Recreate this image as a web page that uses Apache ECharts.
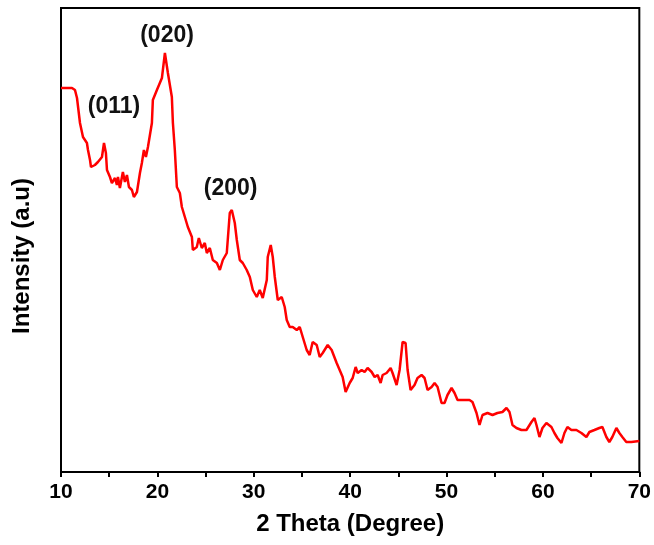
<!DOCTYPE html>
<html>
<head>
<meta charset="utf-8">
<script src="https://cdn.jsdelivr.net/npm/echarts@6/dist/echarts.min.js"></script>
<style>
  html, body { margin: 0; padding: 0; background: #fff; }
  #chart { width: 654px; height: 545px; }
</style>
</head>
<body>
<div id="chart"></div>
<script>
// 2 theta (degree)
const twoTheta = [
  10.00, 11.14, 11.45, 11.66, 11.97, 12.28, 12.69, 12.80, 13.01, 13.11,
  13.52, 13.83, 14.25, 14.46, 14.66, 14.77, 15.08, 15.28, 15.60, 15.80,
  15.91, 16.11, 16.42, 16.63, 16.84, 17.05, 17.36, 17.56, 17.88, 18.19,
  18.39, 18.60, 18.81, 19.02, 19.43, 19.53, 19.95, 20.47, 20.78, 20.98,
  21.09, 21.50, 21.61, 21.81, 22.02, 22.33, 22.54, 22.85, 23.16, 23.58,
  23.68, 24.09, 24.30, 24.61, 24.92, 25.13, 25.44, 25.75, 26.17, 26.48,
  26.79, 27.20, 27.51, 27.72, 28.03, 28.24, 28.55, 28.86, 29.27, 29.59,
  29.90, 30.31, 30.62, 30.93, 31.35, 31.45, 31.76, 31.97, 32.18, 32.49,
  32.90, 33.21, 33.42, 33.73, 34.04, 34.46, 34.77, 35.08, 35.49, 35.80,
  36.11, 36.53, 36.84, 37.15, 37.67, 38.08, 38.60, 38.91, 39.22, 39.53,
  39.95, 40.26, 40.57, 40.78, 41.19, 41.50, 41.81, 42.23, 42.54, 42.85,
  43.16, 43.37, 43.78, 44.20, 44.40, 44.82, 45.13, 45.44, 45.75, 45.96,
  46.27, 46.68, 46.99, 47.41, 47.72, 48.03, 48.45, 48.76, 49.07, 49.48,
  49.79, 50.10, 50.52, 50.83, 51.14, 51.66, 52.38, 52.69, 53.11, 53.42,
  53.73, 54.25, 54.77, 55.28, 55.80, 56.22, 56.53, 56.84, 57.25, 57.77,
  58.29, 58.81, 59.12, 59.33, 59.64, 59.95, 60.36, 60.88, 61.19, 61.50,
  61.92, 62.23, 62.54, 62.95, 63.47, 63.99, 64.51, 64.82, 65.34, 65.85,
  66.17, 66.58, 66.89, 67.20, 67.62, 67.93, 68.24, 68.65, 69.17, 70.00
];
// intensity (arbitrary units)
const intensity = [
  384, 384, 382, 374, 349, 335, 329, 322, 312, 305,
  307, 310, 315, 329, 319, 302, 295, 289, 294, 287,
  295, 284, 300, 290, 297, 285, 282, 275, 280, 299,
  309, 322, 315, 325, 349, 372, 382, 394, 419, 419,
  399, 375, 349, 322, 285, 279, 265, 255, 245, 235,
  222, 225, 234, 224, 229, 219, 224, 212, 209, 202,
  212, 219, 259, 262, 249, 232, 212, 209, 202, 195,
  182, 175, 182, 174, 192, 215, 227, 215, 195, 172,
  175, 165, 152, 145, 145, 142, 145, 135, 122, 117,
  130, 127, 115, 119, 127, 122, 109, 102, 95, 80,
  89, 94, 105, 99, 102, 100, 104, 100, 95, 97,
  89, 97, 99, 104, 99, 87, 102, 130, 129, 102,
  82, 87, 94, 97, 94, 82, 85, 89, 85, 69,
  69, 77, 84, 79, 72, 72, 72, 70, 59, 47,
  57, 59, 57, 59, 60, 64, 60, 47, 44, 42,
  42, 50, 54, 47, 35, 44, 49, 45, 39, 34,
  29, 39, 45, 42, 42, 39, 35, 40, 42, 44,
  45, 35, 30, 35, 44, 39, 35, 30, 30, 31
];
// peak labels
const peakNames = ['(011)', '(020)', '(200)'];
const peakX = [15.5, 21.0, 27.6];
const peakY = [365, 436, 283];

const xrd = twoTheta.map((t, i) => [t, intensity[i]]);
const font = '"Liberation Sans", Arial, sans-serif';

const chart = echarts.init(document.getElementById('chart'));
chart.setOption({
  animation: false,
  grid: {
    left: 61, right: 14, top: 8, bottom: 73,
    show: true, borderColor: '#000', borderWidth: 2
  },
  xAxis: {
    type: 'value',
    min: 10, max: 70, interval: 10,
    name: '2 Theta (Degree)',
    nameLocation: 'middle',
    nameGap: 40,
    nameTextStyle: { fontFamily: font, fontWeight: 'bold', fontSize: 24, color: '#000' },
    axisLine: { show: true, lineStyle: { color: '#000', width: 2 } },
    axisTick: { show: true, inside: false, length: 5, lineStyle: { color: '#000', width: 2 } },
    minorTick: { show: true, splitNumber: 2, length: 5, lineStyle: { color: '#000', width: 2 } },
    axisLabel: { margin: 10, fontFamily: font, fontWeight: 'bold', fontSize: 21, color: '#000' },
    splitLine: { show: false }
  },
  yAxis: {
    type: 'value',
    min: 0, max: 464,
    name: 'Intensity (a.u)',
    nameLocation: 'middle',
    nameGap: 27,
    nameTextStyle: {
      fontFamily: font, fontWeight: 'bold', fontSize: 24, color: '#000',
      padding: [0, 32, 0, 0]
    },
    axisLine: { show: true, lineStyle: { color: '#000', width: 2 } },
    axisTick: { show: false },
    axisLabel: { show: false },
    splitLine: { show: false }
  },
  series: [{
    type: 'line',
    data: xrd,
    showSymbol: false,
    lineStyle: { color: '#ff0000', width: 2.5 },
    markPoint: {
      symbol: 'circle',
      symbolSize: 0,
      label: {
        show: true,
        position: 'inside',
        formatter: p => p.name,
        fontFamily: font, fontWeight: 'bold', fontSize: 23, color: '#111'
      },
      data: peakNames.map((n, i) => ({ name: n, coord: [peakX[i], peakY[i]] }))
    }
  }]
});
</script>
</body>
</html>
